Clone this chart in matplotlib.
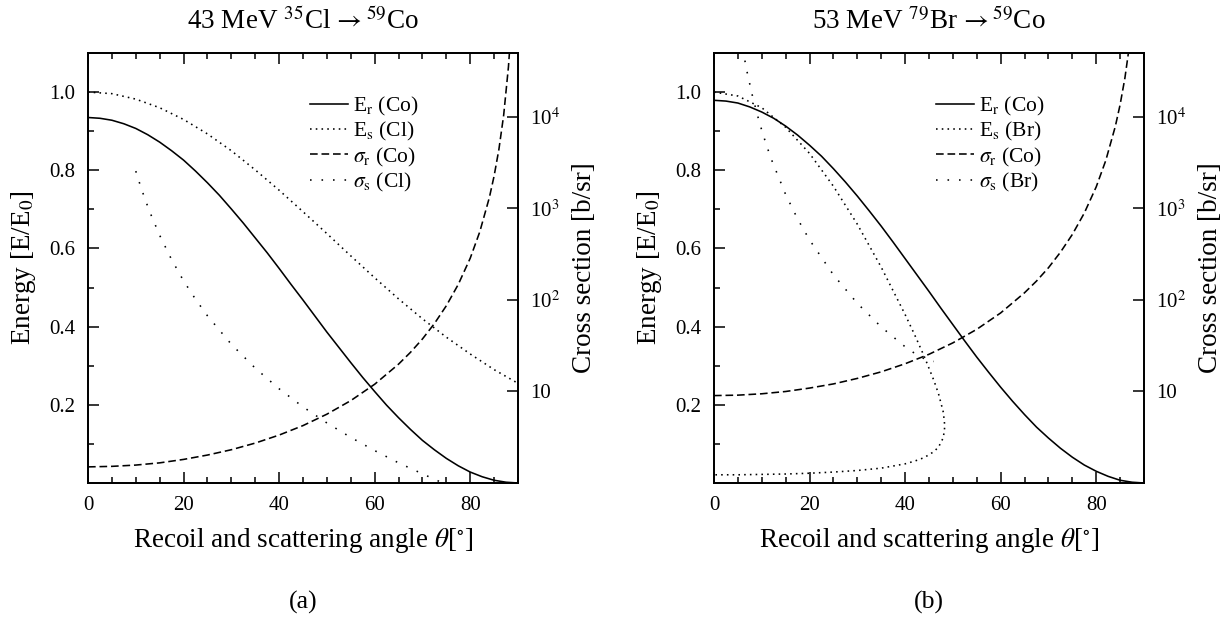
import matplotlib
matplotlib.use("Agg")
import matplotlib.pyplot as plt
from matplotlib.ticker import FixedLocator, NullLocator, MultipleLocator

plt.rcParams["font.family"] = ["Liberation Serif", "DejaVu Serif"]
plt.rcParams["mathtext.fontset"] = "stix"

# ---------------- (a) 43 MeV 35Cl -> 59Co ----------------
theta_er = [0, 2.5, 5, 7.5, 10, 12.5, 15, 17.5, 20, 22.5, 25, 27.5, 30, 32.5, 35,
            37.5, 40, 42.5, 45, 47.5, 50, 52.5, 55, 57.5, 60, 62.5, 65, 67.5, 70,
            72.5, 75, 77.5, 80, 82.5, 85, 87.5, 90]
er_co_a = [0.935, 0.933, 0.928, 0.919, 0.907, 0.891, 0.872, 0.850, 0.826, 0.798,
           0.768, 0.736, 0.701, 0.665, 0.627, 0.589, 0.549, 0.508, 0.468, 0.427,
           0.386, 0.347, 0.308, 0.270, 0.234, 0.199, 0.167, 0.137, 0.109, 0.085,
           0.063, 0.044, 0.028, 0.016, 0.007, 0.002, 0.0]

theta_es_a = [0, 5, 10, 15, 20, 25, 30, 35, 40, 45, 50, 55, 60, 65, 70, 75, 80, 85, 90]
es_cl_a = [1.000, 0.996, 0.982, 0.960, 0.930, 0.893, 0.850, 0.801, 0.749, 0.694,
           0.638, 0.581, 0.525, 0.471, 0.420, 0.373, 0.330, 0.290, 0.255]

theta_sr_a = [0, 5, 10, 15, 20, 25, 30, 35, 40, 45, 50, 55, 60, 65, 67.5, 70, 72.5,
              75, 77.5, 80, 82, 84, 85, 86, 87, 88, 88.5]
sr_co_a = [1.50, 1.52, 1.57, 1.66, 1.81, 2.02, 2.31, 2.73, 3.34, 4.24, 5.65, 7.95,
           12.0, 19.9, 26.8, 37.5, 55.2, 86.5, 148, 286, 556, 1313, 2266, 4418,
           10460, 35300, 83600]

theta_ss_a = [10, 11, 12, 13, 15, 17.5, 20, 22.5, 25, 30, 35, 40, 45, 50, 55, 60,
              65, 70, 72, 75]
ss_cl_a = [2560, 1750, 1237, 899, 509, 276, 162, 102, 67.2, 32.8, 18.0, 10.7, 6.79,
           4.53, 3.15, 2.26, 1.66, 1.26, 1.13, 0.96]

# ---------------- (b) 53 MeV 79Br -> 59Co ----------------
er_co_b = [0.979, 0.977, 0.972, 0.962, 0.949, 0.933, 0.913, 0.890, 0.864, 0.836,
           0.804, 0.770, 0.734, 0.696, 0.657, 0.616, 0.574, 0.532, 0.490, 0.447,
           0.405, 0.363, 0.322, 0.283, 0.245, 0.209, 0.175, 0.143, 0.115, 0.089,
           0.066, 0.046, 0.030, 0.017, 0.007, 0.002, 0.0]

theta_es_b = [0, 5, 10, 15, 20, 25, 30, 35, 40, 42, 44, 46, 47, 48, 48.31,
              48, 47, 46, 44, 42, 40, 35, 30, 25, 20, 15, 10, 5, 0]
es_br_b = [1.000, 0.990, 0.960, 0.910, 0.843, 0.759, 0.662, 0.552, 0.431, 0.379,
           0.324, 0.263, 0.228, 0.181, 0.145,
           0.116, 0.092, 0.080, 0.065, 0.056, 0.049, 0.038, 0.032, 0.028, 0.025,
           0.023, 0.022, 0.021, 0.021]

theta_sr_b = [0, 5, 10, 15, 20, 25, 30, 35, 40, 45, 50, 55, 60, 65, 67.5, 70, 72.5,
              75, 77.5, 80, 82, 84, 85, 86, 87]
sr_co_b = [9.02, 9.12, 9.44, 10.0, 10.9, 12.1, 13.9, 16.4, 20.1, 25.5, 34.0, 47.8,
           72.2, 120, 161, 225, 332, 520, 890, 1723, 3346, 7898, 13630, 26570, 62900]

theta_ss_b = [6, 7, 8, 9, 10, 11, 12, 15, 17.5, 20, 25, 30, 35, 40, 42, 44, 45, 46]
ss_br_b = [54900, 29700, 17400, 10870, 7140, 4880, 3451, 1419, 769, 453, 188, 91.9,
           50.7, 30.8, 26.1, 22.8, 21.7, 21.3]

panels = [
    dict(title=r"43 MeV $^{35}$Cl$\,\rightarrow$$^{59}$Co", tag="(a)", proj="Cl",
         er=er_co_a, theta_es=theta_es_a, es=es_cl_a,
         theta_sr=theta_sr_a, sr=sr_co_a, theta_ss=theta_ss_a, ss=ss_cl_a,
         left=88),
    dict(title=r"53 MeV $^{79}$Br$\,\rightarrow$$^{59}$Co", tag="(b)", proj="Br",
         er=er_co_b, theta_es=theta_es_b, es=es_br_b,
         theta_sr=theta_sr_b, sr=sr_co_b, theta_ss=theta_ss_b, ss=ss_br_b,
         left=714),
]

W, H = 1231, 624
fig = plt.figure(figsize=(W / 100, H / 100), dpi=100)

LW = 1.15
TICK_FS = 15
LABEL_FS = 19.5
for p in panels:
    ax = fig.add_axes([p["left"] / W, 1 - 483 / H, 430 / W, 430 / H])
    ax2 = ax.twinx()

    l1, = ax.plot(theta_er, p["er"], color="black", lw=LW, ls="-")
    l2, = ax.plot(p["theta_es"], p["es"], color="black", lw=LW, ls=(0, (1, 2.6)))
    l3, = ax2.plot(p["theta_sr"], p["sr"], color="black", lw=LW, ls=(0, (4.8, 2.4)))
    l4, = ax2.plot(p["theta_ss"], p["ss"], color="black", lw=LW, ls=(0, (1, 6.2)))

    ax.set_xlim(0, 90)
    ax.set_ylim(0, 1.1)
    ax2.set_yscale("log")
    ax2.set_ylim(1, 5e4)

    ax.xaxis.set_major_locator(MultipleLocator(20))
    ax.xaxis.set_minor_locator(MultipleLocator(5))
    ax.yaxis.set_major_locator(FixedLocator([0.2, 0.4, 0.6, 0.8, 1.0]))
    ax.yaxis.set_minor_locator(FixedLocator([0.1, 0.3, 0.5, 0.7, 0.9]))
    ax.set_yticklabels(["0.2", "0.4", "0.6", "0.8", "1.0"])
    ax.tick_params(which="both", direction="in", top=True, right=False,
                   labelsize=TICK_FS, width=1.1, pad=9)
    ax.tick_params(which="major", length=8)
    ax.tick_params(which="minor", length=4)

    ax2.yaxis.set_major_locator(FixedLocator([10, 100, 1000, 10000]))
    ax2.yaxis.set_minor_locator(NullLocator())
    ax2.set_yticklabels(["10", r"10$^2$", r"10$^3$", r"10$^4$"])
    ax2.tick_params(which="both", direction="in", labelsize=TICK_FS, width=1.1,
                    length=8, pad=9)

    for a in (ax, ax2):
        for s in a.spines.values():
            s.set_linewidth(1.3)

    ax.set_xlabel(r"Recoil and scattering angle $\theta$[$^{\circ}$]",
                  fontsize=LABEL_FS, labelpad=8)
    ax.set_ylabel(r"Energy [E/E$_0$]", fontsize=LABEL_FS, labelpad=8)
    ax2.set_ylabel("Cross section [b/sr]", fontsize=LABEL_FS, labelpad=8)
    ax.set_title(p["title"], fontsize=LABEL_FS, pad=17)

    pr = p["proj"]
    ax2.legend([l1, l2, l3, l4],
               [r"E$_{\rm r}$ (Co)", r"E$_{\rm s}$ (%s)" % pr,
                r"$\sigma_{\rm r}$ (Co)", r"$\sigma_{\rm s}$ (%s)" % pr],
               loc="upper left", bbox_to_anchor=(0.516, 0.902), frameon=False,
               borderpad=0, borderaxespad=0,
               fontsize=15.5, handlelength=1.75, handletextpad=0.25,
               labelspacing=0.1)

    fig.text((p["left"] + 215) / W, 1 - 602 / H, p["tag"], ha="center",
             va="center", fontsize=18.5)

fig.savefig("out.png", dpi=100)
